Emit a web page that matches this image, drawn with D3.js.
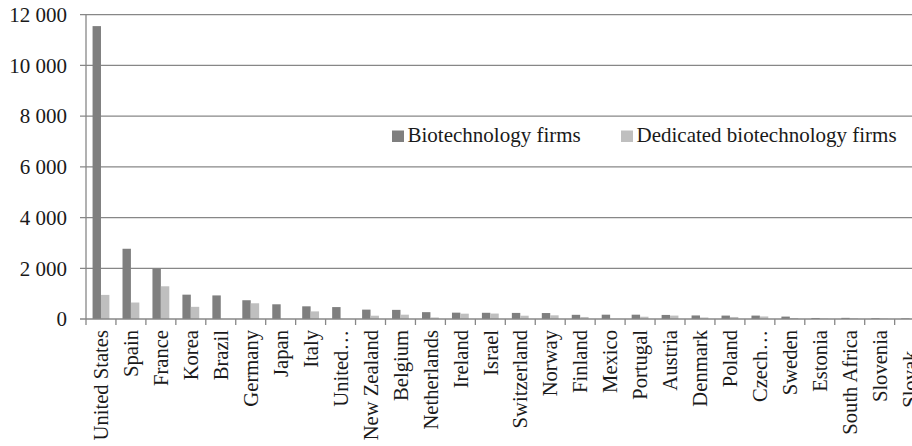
<!DOCTYPE html>
<html>
<head>
<meta charset="utf-8">
<script src="https://cdn.jsdelivr.net/npm/d3@7"></script>
<style>
body { margin:0; background:#fff; }
</style>
</head>
<body>
<div id="chart"></div>
<script>
var countries = ["United States","Spain","France","Korea","Brazil","Germany","Japan","Italy","United…",
    "New Zealand","Belgium","Netherlands","Ireland","Israel","Switzerland","Norway","Finland","Mexico",
    "Portugal","Austria","Denmark","Poland","Czech…","Sweden","Estonia","South Africa","Slovenia","Slovak…"];
var biotech = [11550,2770,1990,960,930,740,580,500,470,370,360,270,250,245,240,235,165,170,
    170,160,140,135,135,95,40,45,30,25];
var dedicated = [950,650,1290,480,null,620,null,300,null,130,170,60,210,215,130,145,80,null,
    90,135,60,80,100,40,15,25,15,10];
var seriesNames = ["Biotechnology firms","Dedicated biotechnology firms"];
var seriesColors = ["#7f7f7f","#bfbfbf"];
var yTicks = [0,2000,4000,6000,8000,10000,12000];

var W = 912, H = 446;
var m = {left:86, top:14.7, bottom:319};
var step = 29.95;

var svg = d3.select("#chart").append("svg").attr("width", W).attr("height", H)
    .attr("font-family", "'Liberation Serif', 'Times New Roman', Times, serif")
    .attr("fill", "#1a1a1a");

var x = d3.scaleBand().domain(countries).range([m.left, m.left + step*countries.length]).padding(0);
var xs = d3.scaleBand().domain([0,1]).range([0, x.bandwidth()]).paddingInner(0).paddingOuter(0.78);
var y = d3.scaleLinear().domain([0,12000]).range([m.bottom, m.top]);

var fmt = function(v){ return d3.format(",")(v).replace(/,/g, " "); };

// gridlines + left ticks
svg.append("g").selectAll("line").data(yTicks.filter(function(d){ return d > 0; })).enter().append("line")
    .attr("x1", m.left-6).attr("x2", W).attr("y1", function(d){ return y(d); }).attr("y2", function(d){ return y(d); })
    .attr("stroke", "#878787").attr("stroke-width", 1.3);

svg.append("g").selectAll("text").data(yTicks).enter().append("text")
    .attr("x", 67).attr("y", function(d){ return y(d); }).attr("dy", "0.35em")
    .attr("text-anchor", "end").attr("font-size", 21).text(fmt);

// bars
var series = [biotech, dedicated];
series.forEach(function(vals, s){
    svg.append("g").selectAll("rect").data(countries).enter().append("rect")
        .filter(function(d, i){ return vals[i] != null; })
        .attr("x", function(d){ return x(d) + xs(s); })
        .attr("width", xs.bandwidth())
        .attr("y", function(d){ return y(vals[countries.indexOf(d)]); })
        .attr("height", function(d){ return m.bottom - y(vals[countries.indexOf(d)]); })
        .attr("fill", seriesColors[s]);
});

// axes lines
svg.append("line").attr("x1", m.left).attr("x2", m.left).attr("y1", m.top).attr("y2", m.bottom)
    .attr("stroke", "#878787").attr("stroke-width", 1.3);
svg.append("line").attr("x1", m.left-6).attr("x2", W).attr("y1", m.bottom).attr("y2", m.bottom)
    .attr("stroke", "#878787").attr("stroke-width", 1.3);
svg.append("g").selectAll("line").data(countries.map(function(d){ return x(d); }).concat([x.range()[1]])).enter().append("line")
    .attr("x1", function(d){ return d; }).attr("x2", function(d){ return d; })
    .attr("y1", m.bottom).attr("y2", m.bottom+6)
    .attr("stroke", "#878787").attr("stroke-width", 1.3);

// category labels, rotated
svg.append("g").selectAll("text").data(countries).enter().append("text")
    .attr("transform", function(d){ return "translate(" + (x(d) + x.bandwidth()/2) + "," + (m.bottom+11) + ") rotate(-90)"; })
    .attr("dy", "0.35em").attr("text-anchor", "end").attr("font-size", 20.6).text(function(d){ return d; });

// legend
var legendX = [392, 621];
seriesNames.forEach(function(name, i){
    var g = svg.append("g").attr("transform", "translate(" + legendX[i] + ",130.5)");
    g.append("rect").attr("width", 12).attr("height", 11.5).attr("fill", seriesColors[i]);
    g.append("text").attr("x", 15.5).attr("y", 11.5).attr("font-size", 21).text(name);
});
</script>
</body>
</html>
